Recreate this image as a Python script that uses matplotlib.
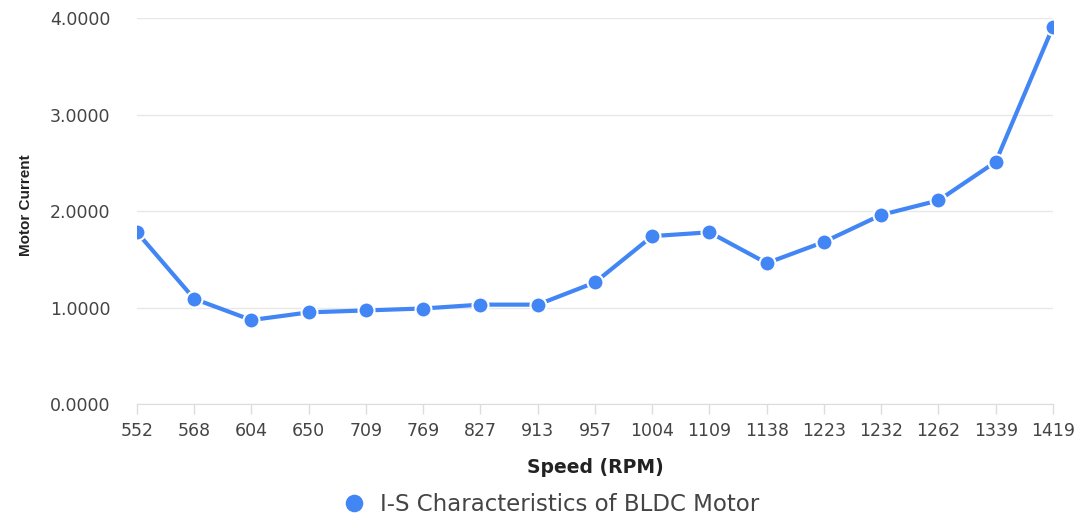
import matplotlib.pyplot as plt
import numpy as np

speeds = ['552', '568', '604', '650', '709', '769', '827', '913', '957',
          '1004', '1109', '1138', '1223', '1232', '1262', '1339', '1419']
current = [1.78, 1.09, 0.87, 0.95, 0.97, 0.99, 1.03, 1.03, 1.26,
           1.74, 1.78, 1.46, 1.68, 1.96, 2.11, 2.51, 3.91]
y_ticks = [0, 1, 2, 3, 4]

blue = '#4285f4'
plt.rcParams['font.family'] = ['DejaVu Sans']

fig = plt.figure(figsize=(10.81, 5.16), dpi=100)
ax = fig.add_axes([0.1267, 0.217, 0.8474, 0.748])

x = np.arange(len(speeds))
ax.plot(x, current, color=blue, lw=3, marker='o', ms=11.5,
        mfc=blue, mec='white', mew=1.5, label='I-S Characteristics of BLDC Motor',
        solid_capstyle='round', zorder=3)

ax.set_xlim(0, len(speeds) - 1)
ax.set_ylim(0, 4)
ax.set_xticks(x)
ax.set_xticklabels(speeds)
ax.set_yticks(y_ticks)
ax.set_yticklabels(['%.4f' % v for v in y_ticks])

ax.grid(axis='y', color='#e8e8e8', lw=1)
ax.set_axisbelow(True)
for s in ['top', 'right', 'left']:
    ax.spines[s].set_visible(False)
ax.spines['bottom'].set_color('#dcdcdc')
ax.tick_params(axis='x', colors='#dcdcdc', length=7, width=1, pad=6,
               labelcolor='#444444', labelsize=12.5)
ax.tick_params(axis='y', length=0, pad=19, labelcolor='#444444', labelsize=12.5)

ax.set_xlabel('Speed (RPM)', fontsize=13.5, fontweight='bold', color='#222222',
              labelpad=13)
ax.set_ylabel('Motor Current', fontsize=11, fontweight='bold', color='#222222',
              labelpad=14, family=['Liberation Sans'])
ax.yaxis.set_label_coords(-0.113, 0.515)

leg = fig.legend(loc='center', bbox_to_anchor=(0.515, 0.022), frameon=False,
                 fontsize=16.5, handlelength=0, handletextpad=1.1, markerscale=1.1)
for t in leg.get_texts():
    t.set_color('#444444')
for h in leg.legend_handles:
    h.set_markeredgewidth(0)

fig.savefig('out.png', dpi=100)
